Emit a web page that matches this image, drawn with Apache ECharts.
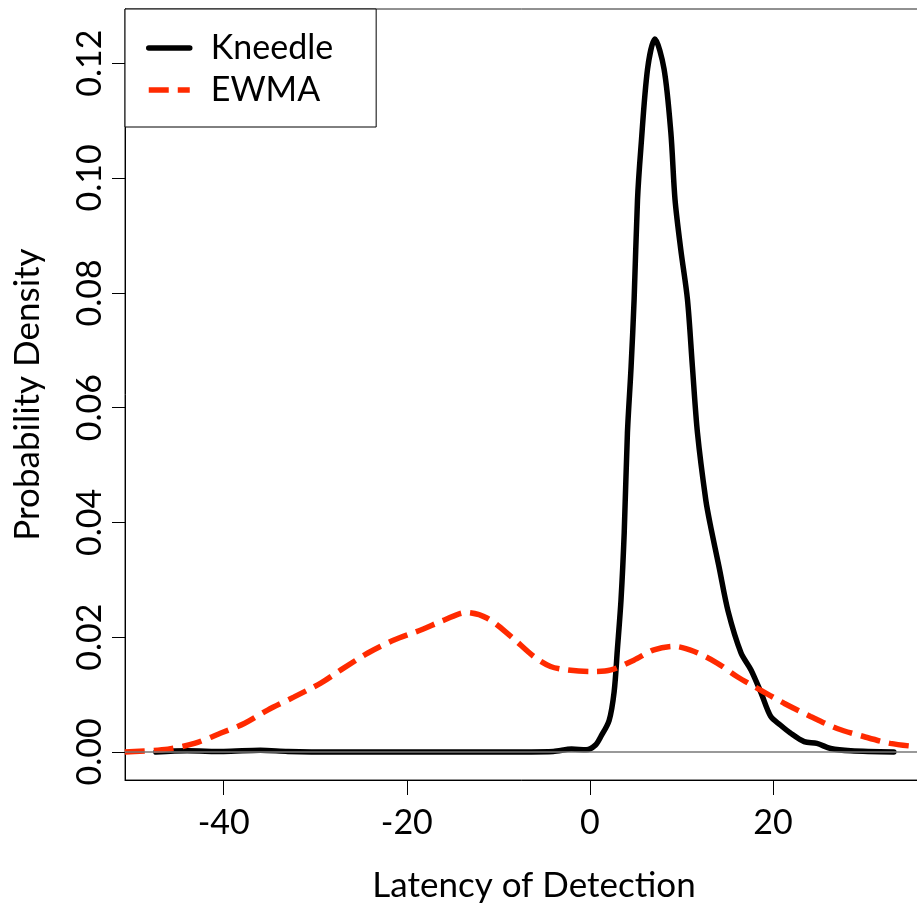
<!DOCTYPE html>
<html>
<head>
<meta charset="utf-8">
<title>Kneedle vs EWMA</title>
<script src="https://cdn.jsdelivr.net/npm/echarts@6/dist/echarts.min.js"></script>
<style>
  html, body { margin: 0; padding: 0; background: #fff; }
  #grafico { width: 917px; height: 907px; }
</style>
</head>
<body>
<div id="grafico"></div>
<script>
// Datos
const kneedleX = [-47.4, -44, -40, -36, -33, -28, -20, -10, -4, -2, -0.4, 0.6, 1.2, 2.1, 2.65, 3.0, 3.4, 3.75, 4.1, 4.5, 4.83, 5.2, 5.56, 6.3, 7.1, 8.1, 8.84, 9.3, 9.93, 10.66, 11.2, 11.75, 12.66, 13.2, 14.1, 15.1, 16.5, 17.6, 18.7, 19.75, 20.8, 21.9, 23.4, 24.8, 26.3, 28.5, 33.2];
const kneedleY = [0, 0.0002, 0.0001, 0.0003, 0.0001, 0, 0, 0, 0.0001, 0.0005, 0.0004, 0.0012, 0.0027, 0.0055, 0.0105, 0.0178, 0.0265, 0.0382, 0.0556, 0.0671, 0.0788, 0.0962, 0.1050, 0.1190, 0.1242, 0.1190, 0.1080, 0.0962, 0.0875, 0.0788, 0.0671, 0.0556, 0.0439, 0.0392, 0.0323, 0.0245, 0.0173, 0.0143, 0.0103, 0.0062, 0.0047, 0.0033, 0.0018, 0.0015, 0.0006, 0.0002, 0];

const ewmaX = [-50.8, -46.1, -43.2, -40.3, -37.7, -35.2, -32.3, -29.4, -27.2, -24.3, -21.4, -18.4, -15.9, -13.5, -11.2, -8.6, -6.1, -4.3, -2.5, 0.1, 2.3, 4.8, 7.0, 9.2, 11.4, 13.9, 16.1, 18.3, 21.2, 24.1, 27.0, 29.9, 32.8, 35.8, 38.6];
const ewmaY = [0, 0.0005, 0.0015, 0.0033, 0.0050, 0.0073, 0.0096, 0.0120, 0.0143, 0.0172, 0.0195, 0.0213, 0.0230, 0.0243, 0.0233, 0.0201, 0.0166, 0.0149, 0.0143, 0.0140, 0.0143, 0.0160, 0.0178, 0.0184, 0.0175, 0.0155, 0.0131, 0.0111, 0.0085, 0.0062, 0.0041, 0.0027, 0.0015, 0.0009, 0.0005];

const xTicks = [-40, -20, 0, 20];
const yTicks = [0, 0.02, 0.04, 0.06, 0.08, 0.10, 0.12];

const fuente = 'Lato';

let grafico = echarts.init(document.getElementById('grafico'), null, { renderer: 'canvas' });

grafico.setOption({
    animation: false,
    backgroundColor: '#fff',
    grid: {
        left: 125, top: 9, bottom: 127, right: -26,
        outerBoundsMode: 'none',
        containLabel: false,
        show: true, borderColor: '#222', borderWidth: 1
    },
    legend: {
        orient: 'vertical',
        left: 125, top: 9,
        padding: [22, 43, 20, 21],
        itemGap: 8,
        itemWidth: 41, itemHeight: 6,
        backgroundColor: '#fff',
        borderColor: '#000', borderWidth: 1,
        itemStyle: { opacity: 0 },
        lineStyle: { width: 5.5 },
        textStyle: { fontFamily: fuente, fontSize: 34, color: '#000', padding: [0, 0, 0, 16] },
        data: ['Kneedle', 'EWMA']
    },
    xAxis: {
        type: 'value',
        min: -50.78, max: 38.57,
        name: 'Latency of Detection',
        nameLocation: 'middle',
        nameGap: 88,
        nameTextStyle: { fontFamily: fuente, fontSize: 35, color: '#000' },
        axisLine: { show: true, onZero: false, lineStyle: { color: '#000', width: 1 } },
        axisTick: { show: true, length: 15, lineStyle: { color: '#000' }, customValues: xTicks },
        axisLabel: { fontFamily: fuente, fontSize: 34, color: '#000', margin: 26, customValues: xTicks },
        splitLine: { show: false }
    },
    yAxis: {
        type: 'value',
        min: -0.00488, max: 0.12944,
        name: 'Probability Density',
        nameLocation: 'middle',
        nameGap: 80,
        nameTextStyle: { fontFamily: fuente, fontSize: 35, color: '#000' },
        axisLine: { show: true, onZero: false, lineStyle: { color: '#000', width: 1 } },
        axisTick: { show: true, length: 13, lineStyle: { color: '#000' }, customValues: yTicks },
        axisLabel: {
            fontFamily: fuente, fontSize: 34, color: '#000', margin: 18, rotate: 90,
            customValues: yTicks,
            formatter: v => v.toFixed(2)
        },
        splitLine: { show: false }
    },
    series: [
        {
            name: 'Kneedle',
            type: 'line',
            data: kneedleX.map((x, i) => [x, kneedleY[i]]),
            symbol: 'none',
            smooth: 0.3,
            lineStyle: { color: '#000', width: 5.5, join: 'round', cap: 'round' },
            itemStyle: { color: '#000' },
            z: 3,
            markLine: {
                silent: true,
                symbol: 'none',
                label: { show: false },
                lineStyle: { color: '#777', width: 1.5, type: 'solid' },
                data: [{ yAxis: 0 }]
            }
        },
        {
            name: 'EWMA',
            type: 'line',
            data: ewmaX.map((x, i) => [x, ewmaY[i]]),
            symbol: 'none',
            smooth: 0.3,
            lineStyle: { color: '#ff2a00', width: 5.5, type: [20, 9] },
            itemStyle: { color: '#ff2a00' },
            z: 4
        }
    ]
});
</script>
</body>
</html>
